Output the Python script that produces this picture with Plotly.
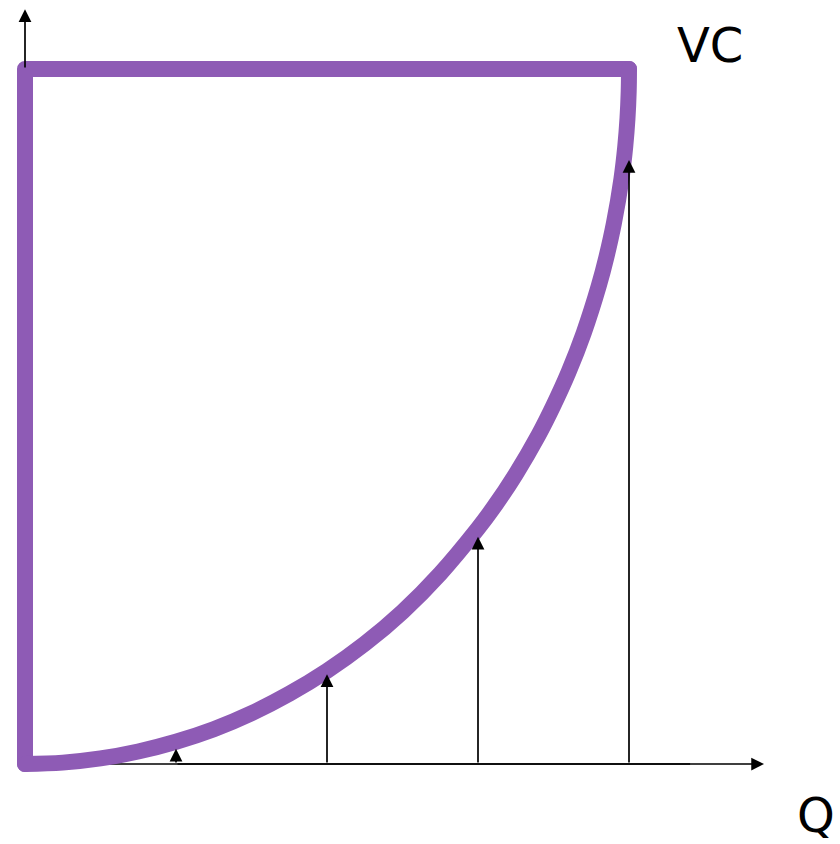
import plotly.graph_objects as go

# Curve values (Q in units, VC in % of the top level)
curve_q = [0, 0.25, 0.5, 0.75, 1, 1.25, 1.5, 1.75, 2, 2.25, 2.5, 2.75, 3, 3.1,
           3.25, 3.4, 3.5, 3.6, 3.7, 3.8, 3.85, 3.9, 3.95, 3.975, 3.99, 3.998, 4]
curve_vc = [0, 0.2, 0.8, 1.8, 3.2, 5.0, 7.3, 10.1, 13.4, 17.3, 21.9, 27.4, 33.9, 36.8,
            41.7, 47.3, 51.6, 56.4, 62.0, 68.8, 72.9, 77.8, 84.2, 88.8, 92.9, 96.8, 100]
top_vc = 100

# Arrow positions and heights
arrow_q = [1, 2, 3, 4]
arrow_vc = [2.2, 12.9, 32.7, 86.9]

# Axis extents
x_axis_end = 4.894
y_axis_end = 108.6

purple = "#8e5bb5"

fig = go.Figure()
# box: top-right -> top-left -> bottom-left
fig.add_trace(go.Scatter(
    x=[curve_q[-1], 0, 0], y=[top_vc, top_vc, 0], mode="lines",
    line=dict(color=purple, width=16, shape="linear"),
    hoverinfo="skip", showlegend=False,
))
# curve
fig.add_trace(go.Scatter(
    x=curve_q, y=curve_vc, mode="lines",
    line=dict(color=purple, width=16, shape="spline", smoothing=1.0),
    hoverinfo="skip", showlegend=False,
))

# axis lines drawn beneath the purple outline
fig.add_shape(type="line", x0=0, y0=0, x1=x_axis_end * 0.9, y1=0, layer="below",
              line=dict(color="black", width=1.7), xref="x", yref="y")
fig.add_shape(type="line", x0=0, y0=0, x1=0, y1=y_axis_end * 0.9, layer="below",
              line=dict(color="black", width=1.7), xref="x", yref="y")

annotations = []
arrow_style = dict(axref="x", ayref="y", xref="x", yref="y", showarrow=True,
                   arrowhead=2, arrowsize=1.5, arrowwidth=1.7,
                   arrowcolor="black", text="")
# axes arrow heads (tails start where the purple outline no longer covers the axis)
annotations.append(dict(x=x_axis_end, y=0, ax=arrow_q[0], ay=0, **arrow_style))
annotations.append(dict(x=0, y=y_axis_end, ax=0, ay=top_vc, **arrow_style))
for q, v in zip(arrow_q, arrow_vc):
    annotations.append(dict(x=q, y=v, ax=q, ay=0, **arrow_style))

annotations.append(dict(x=4.536, y=103.4, xref="x", yref="y", text="VC",
                        showarrow=False, font=dict(family="DejaVu Sans", size=48, color="black")))
annotations.append(dict(x=5.238, y=-7.3, xref="x", yref="y", text="Q",
                        showarrow=False, font=dict(family="DejaVu Sans", size=48, color="black")))

fig.update_layout(
    width=840, height=844,
    margin=dict(l=0, r=0, t=0, b=0),
    paper_bgcolor="white", plot_bgcolor="white",
    annotations=annotations,
    xaxis=dict(range=[-25 / 151, 815 / 151], visible=False, fixedrange=True),
    yaxis=dict(range=[-80 / 6.95, 764 / 6.95], visible=False, fixedrange=True),
    showlegend=False,
)

post = (
    "document.body.style.margin='0px';document.body.style.overflow='hidden';"
    "document.querySelectorAll('.scatterlayer path.js-line').forEach(function(p){"
    "p.style.strokeLinejoin='round';p.style.strokeLinecap='round';});"
)

fig.write_html("out.html", post_script=post, config={"displayModeBar": False})
